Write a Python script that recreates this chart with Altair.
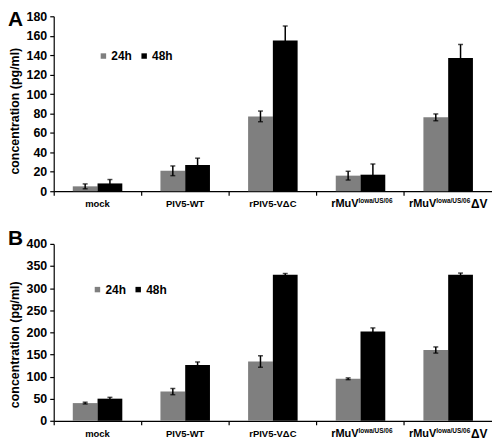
import altair as alt
import pandas as pd

categories = ["mock", "PIV5-WT", "rPIV5-VΔC", "rMuV-Iowa", "rMuV-Iowa-dV"]
label_main = ["mock", "PIV5-WT", "rPIV5-VΔC", "rMuV", "rMuV"]
label_sup = ["", "", "", "Iowa/US/06", "Iowa/US/06"]
label_tail = ["", "", "", "", "ΔV"]
times = ["24h", "48h"]

# Panel A
a_24 = [5, 21, 77, 16, 76]
a_24_err = [2.5, 5, 5.5, 4.5, 3.5]
a_48 = [8, 27, 155, 17, 137]
a_48_err = [4, 7, 15, 11, 14]

# Panel B
b_24 = [40, 66, 134, 95, 160]
b_24_err = [2, 7, 13, 2, 7]
b_48 = [50, 126, 330, 202, 330]
b_48_err = [3, 7, 3, 8, 4]

FONT = "Liberation Sans"


def make_df(v24, e24, v48, e48):
    rows = []
    for i, c in enumerate(categories):
        for t, v, e in (("24h", v24[i], e24[i]), ("48h", v48[i], e48[i])):
            rows.append(dict(category=c, time=t, value=v, lo=v - e, hi=v + e))
    return pd.DataFrame(rows)


labels_df = pd.DataFrame({
    "category": categories,
    "main": label_main,
    "sup": label_sup,
    "tail": label_tail,
})


def panel(df, letter, ymax, step, height, width, leg_x, leg_y, letter_y, title_shift):
    xaxis = alt.Axis(title=None, labels=False, ticks=True, bandPosition=0,
                     tickSize=4, tickColor="black", domainColor="black",
                     domainWidth=1.2, tickWidth=1.2)
    xscale = alt.Scale(paddingInner=0, paddingOuter=0)
    x = alt.X("category:N", sort=categories, scale=xscale, axis=xaxis)
    xo = alt.XOffset("time:N", sort=times,
                     scale=alt.Scale(paddingInner=0, paddingOuter=0.77))
    yscale = alt.Scale(domain=[0, ymax], nice=False)
    yaxis = alt.Axis(values=list(range(0, ymax + 1, step)), labelOverlap=False,
                     title="concentration (pg/ml)", grid=False,
                     titleFontSize=12.5, titleFontWeight="bold", titleFont=FONT,
                     titleColor="black", titlePadding=5,
                     titleY=height / 2 + title_shift,
                     labelFontSize=12.5, labelFontWeight="bold", labelFont=FONT,
                     labelColor="black", labelPadding=3,
                     tickSize=4, tickColor="black", domainColor="black",
                     domainWidth=1.2, tickWidth=1.2)
    color = alt.Color("time:N", sort=times,
                      scale=alt.Scale(domain=times, range=["#7f7f7f", "#000000"]),
                      legend=alt.Legend(title=None, orient="none", direction="horizontal",
                                        legendX=leg_x, legendY=leg_y, symbolType="square",
                                        symbolSize=30, symbolStrokeWidth=0,
                                        labelFontSize=12, labelFontWeight="bold",
                                        labelFont=FONT, labelColor="black",
                                        labelOffset=2, columnPadding=6))
    base = alt.Chart(df)
    bars = base.mark_bar().encode(
        x=x, xOffset=xo, y=alt.Y("value:Q", scale=yscale, axis=yaxis), color=color)
    rules = base.mark_rule(color="black", strokeWidth=1.5).encode(
        x=x, xOffset=xo, y=alt.Y("lo:Q", scale=yscale, axis=yaxis), y2="hi:Q")
    cap_hi = base.mark_tick(color="black", size=5, thickness=1.5).encode(
        x=x, xOffset=xo, y=alt.Y("hi:Q", scale=yscale, axis=yaxis))
    cap_lo = base.mark_tick(color="black", size=5, thickness=1.5).encode(
        x=x, xOffset=xo, y=alt.Y("lo:Q", scale=yscale, axis=yaxis))

    lab = alt.Chart(labels_df)
    ly = alt.value(height + 13)
    simple = lab.transform_filter("datum.sup == ''").mark_text(
        fontSize=9.5, fontWeight="bold", font=FONT, baseline="middle", color="black"
    ).encode(x=x, y=ly, text="main:N")
    m4 = lab.transform_filter(f"datum.category == '{categories[3]}'")
    m5 = lab.transform_filter(f"datum.category == '{categories[4]}'")
    t4a = m4.mark_text(fontSize=11, fontWeight="bold", font=FONT, baseline="middle",
                       align="right", dx=-2, color="black").encode(x=x, y=ly, text="main:N")
    t4b = m4.mark_text(fontSize=6.5, fontWeight="bold", font=FONT, baseline="middle",
                       align="left", dx=-2, dy=-3, color="black").encode(x=x, y=ly, text="sup:N")
    t5a = m5.mark_text(fontSize=11, fontWeight="bold", font=FONT, baseline="middle",
                       align="right", dx=-12, color="black").encode(x=x, y=ly, text="main:N")
    t5b = m5.mark_text(fontSize=6.5, fontWeight="bold", font=FONT, baseline="middle",
                       align="left", dx=-12, dy=-3, color="black").encode(x=x, y=ly, text="sup:N")
    t5c = m5.mark_text(fontSize=12, fontWeight="bold", font=FONT, baseline="middle",
                       align="left", dx=23, color="black").encode(x=x, y=ly, text="tail:N")

    letter_mark = alt.Chart(pd.DataFrame({"t": [letter]})).mark_text(
        fontSize=21, fontWeight="bold", font=FONT, align="left", baseline="top", color="black"
    ).encode(text="t:N", x=alt.value(-46), y=alt.value(letter_y))

    return alt.layer(bars, rules, cap_hi, cap_lo, simple, t4a, t4b, t5a, t5b, t5c,
                     letter_mark).properties(width=width, height=height)


pa = panel(make_df(a_24, a_24_err, a_48, a_48_err), "A", 180, 20, 176, 441, 44, 34, -7, 7)
pb = panel(make_df(b_24, b_24_err, b_48, b_48_err), "B", 400, 50, 178, 441, 38, 40, -16, 12)

chart = alt.vconcat(pa, pb, spacing=18).resolve_scale(
    color="independent", x="independent", y="independent"
).resolve_legend(color="independent").properties(
    padding={"left": 0, "top": 0, "right": 0, "bottom": 0}
).configure_view(stroke=None)

chart.save("out.html", embed_options={"renderer": "svg", "actions": False})
